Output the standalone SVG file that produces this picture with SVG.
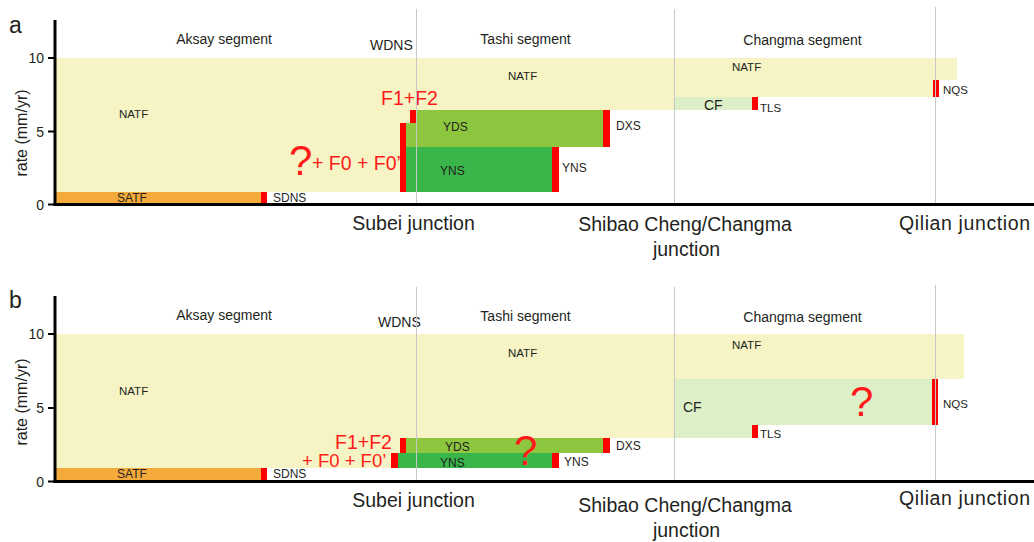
<svg xmlns="http://www.w3.org/2000/svg" width="1034" height="542" viewBox="0 0 1034 542">
<style>
text{font-family:"Liberation Sans",Arial,sans-serif;fill:#231f20}
.natf{fill:#f6f4c4}
.satf{fill:#f5aa3c}
.yds{fill:#8dc63f}
.yns{fill:#39b54a}
.cf{fill:#dcefc6}
.red{fill:#ff0000}
.grid{stroke:#c8c8c8;stroke-width:1;fill:none}
.axis{stroke:#000;stroke-width:3;fill:none}
.tick{stroke:#000;stroke-width:2}
.s11{font-size:11.5px}
.s12{font-size:12px}
.s14{font-size:14px}
.s16{font-size:16px}
.jn{font-size:19.5px}
.rt{fill:#ff1a1a;font-size:19.5px}
.rb{fill:#ff1a1a;font-size:18.5px}
.q{fill:#ff1a1a;font-size:42px}
.pl{font-size:23px}
.tk{font-size:14px;text-anchor:end}
</style>

<!-- ===== Panel a ===== -->
<g id="panel-a">
  <g id="a-NATF">
    <polygon class="natf" points="56,58 957,58 957,80 935,80 935,97 674,97 674,110 410,110 410,123 400,123 400,192 56,192"/>
    <text class="s11" x="119" y="118">NATF</text>
    <text class="s11" x="508" y="80">NATF</text>
    <text class="s11" x="732" y="71">NATF</text>
  </g>
  <g id="a-CF">
    <rect class="cf" x="674" y="97" width="79" height="13"/>
    <text class="s14" x="704" y="110">CF</text>
  </g>
  <g id="a-TLS">
    <rect class="red" x="752" y="97" width="6" height="13"/>
    <text class="s11" x="760" y="111.5">TLS</text>
  </g>
  <g id="a-NQS">
    <rect class="red" x="933" y="80" width="6" height="17"/>
    <text class="s11" x="943" y="94">NQS</text>
  </g>
  <g id="a-YDS">
    <polygon class="yds" points="406,123 410,123 410,110 603,110 603,147 406,147"/>
    <text class="s12" x="443" y="130.5">YDS</text>
  </g>
  <g id="a-F1F2">
    <rect class="red" x="410" y="110" width="6" height="13"/>
    <text class="rt" x="381" y="105">F1+F2</text>
  </g>
  <g id="a-DXS">
    <rect class="red" x="603" y="110" width="7" height="37"/>
    <text class="s12" x="616" y="130">DXS</text>
  </g>
  <g id="a-YNS">
    <rect class="yns" x="406" y="147" width="146" height="45"/>
    <text class="s12" x="440" y="175">YNS</text>
    <rect class="red" x="552" y="147" width="7" height="45"/>
    <text class="s12" x="562" y="171.5">YNS</text>
  </g>
  <g id="a-F0">
    <rect class="red" x="400" y="123" width="6" height="69"/>
    <text class="q" x="289" y="175">?</text>
    <text class="rt" x="312" y="170">+ F0 + F0’</text>
  </g>
  <g id="a-SATF">
    <rect class="satf" x="56" y="192" width="205" height="11"/>
    <text class="s12" x="132" y="201.5" text-anchor="middle">SATF</text>
  </g>
  <g id="a-SDNS">
    <rect class="red" x="261" y="192" width="6" height="11"/>
    <text class="s12" x="273" y="201.5">SDNS</text>
  </g>
  <g id="a-labels">
    <text class="pl" x="9" y="33">a</text>
    <text class="s14" x="224" y="43.5" text-anchor="middle">Aksay segment</text>
    <text class="s14" x="370" y="50">WDNS</text>
    <text class="s14" x="525.5" y="44" text-anchor="middle">Tashi segment</text>
    <text class="s14" x="802.5" y="45" text-anchor="middle">Changma segment</text>
    <text class="jn" x="413.5" y="230" text-anchor="middle">Subei junction</text>
    <text class="jn" x="685" y="231" text-anchor="middle">Shibao Cheng/Changma</text>
    <text class="jn" x="686.5" y="256" text-anchor="middle">junction</text>
    <text class="jn" x="964.5" y="230" text-anchor="middle" textLength="131">Qilian junction</text>
    <text class="s16" transform="translate(27,133) rotate(-90)" text-anchor="middle">rate (mm/yr)</text>
    <text class="tk" x="44" y="63">10</text>
    <text class="tk" x="44" y="136.5">5</text>
    <text class="tk" x="44" y="210">0</text>
  </g>
</g>

<!-- ===== Panel b ===== -->
<g id="panel-b">
  <g id="b-NATF">
    <polygon class="natf" points="56,334 964,334 964,379 674,379 674,438 400,438 400,453 391,453 391,468 56,468"/>
    <text class="s11" x="119" y="395">NATF</text>
    <text class="s11" x="508" y="356.5">NATF</text>
    <text class="s11" x="732" y="349">NATF</text>
  </g>
  <g id="b-CF">
    <polygon class="cf" points="674,379 932,379 932,425 753,425 753,438 674,438"/>
    <text class="s14" x="683" y="411.5">CF</text>
    <text class="q" x="850" y="416">?</text>
  </g>
  <g id="b-TLS">
    <rect class="red" x="752" y="425" width="6" height="13"/>
    <text class="s11" x="760" y="437.5">TLS</text>
  </g>
  <g id="b-NQS">
    <rect class="red" x="932" y="379" width="6" height="46"/>
    <text class="s11" x="943" y="408">NQS</text>
  </g>
  <g id="b-YDS">
    <rect class="yds" x="406" y="438" width="197" height="15"/>
    <text class="s12" x="445" y="451">YDS</text>
  </g>
  <g id="b-F1F2">
    <rect class="red" x="400" y="438" width="6" height="15"/>
    <text class="rt" x="335" y="449">F1+F2</text>
  </g>
  <g id="b-DXS">
    <rect class="red" x="603" y="438" width="7" height="15"/>
    <text class="s12" x="616" y="450">DXS</text>
  </g>
  <g id="b-YNS">
    <rect class="yns" x="398" y="453" width="154" height="15"/>
    <text class="s12" x="440" y="467">YNS</text>
    <rect class="red" x="552" y="453" width="7" height="15"/>
    <text class="s12" x="564" y="466">YNS</text>
    <text class="q" x="514" y="465">?</text>
  </g>
  <g id="b-F0">
    <rect class="red" x="391" y="453" width="7" height="15"/>
    <text class="rb" x="302" y="467">+ F0 + F0’</text>
  </g>
  <g id="b-SATF">
    <rect class="satf" x="56" y="468" width="205" height="12"/>
    <text class="s12" x="132" y="478" text-anchor="middle">SATF</text>
  </g>
  <g id="b-SDNS">
    <rect class="red" x="261" y="468" width="6" height="12"/>
    <text class="s12" x="273" y="478">SDNS</text>
  </g>
  <g id="b-labels">
    <text class="pl" x="9" y="308">b</text>
    <text class="s14" x="224" y="320" text-anchor="middle">Aksay segment</text>
    <text class="s14" x="378" y="326.5">WDNS</text>
    <text class="s14" x="525.5" y="321" text-anchor="middle">Tashi segment</text>
    <text class="s14" x="802.5" y="321.5" text-anchor="middle">Changma segment</text>
    <text class="jn" x="413.5" y="507" text-anchor="middle">Subei junction</text>
    <text class="jn" x="685" y="511.5" text-anchor="middle">Shibao Cheng/Changma</text>
    <text class="jn" x="686.5" y="537" text-anchor="middle">junction</text>
    <text class="jn" x="964.5" y="505" text-anchor="middle" textLength="131">Qilian junction</text>
    <text class="s16" transform="translate(27,402) rotate(-90)" text-anchor="middle">rate (mm/yr)</text>
    <text class="tk" x="44" y="339">10</text>
    <text class="tk" x="44" y="413">5</text>
    <text class="tk" x="44" y="487">0</text>
  </g>
</g>

<!-- ===== Axes and grid lines ===== -->
<g id="connectors">
  <line class="grid" x1="416.5" y1="9" x2="416.5" y2="203"/>
  <line class="grid" x1="674.5" y1="9" x2="674.5" y2="203"/>
  <line class="grid" x1="935.5" y1="7" x2="935.5" y2="203"/>
  <line class="grid" x1="416.5" y1="287" x2="416.5" y2="480"/>
  <line class="grid" x1="674.5" y1="287" x2="674.5" y2="480"/>
  <line class="grid" x1="935.5" y1="285" x2="935.5" y2="480"/>
  <line class="axis" x1="55" y1="20" x2="55" y2="206"/>
  <line class="axis" x1="53.5" y1="204.5" x2="1034" y2="204.5"/>
  <line class="tick" x1="48" y1="58" x2="55" y2="58"/>
  <line class="tick" x1="48" y1="131.5" x2="55" y2="131.5"/>
  <line class="tick" x1="48" y1="204.5" x2="55" y2="204.5"/>
  <line class="axis" x1="55" y1="296" x2="55" y2="483"/>
  <line class="axis" x1="53.5" y1="481.5" x2="1034" y2="481.5"/>
  <line class="tick" x1="48" y1="334" x2="55" y2="334"/>
  <line class="tick" x1="48" y1="408" x2="55" y2="408"/>
  <line class="tick" x1="48" y1="481.5" x2="55" y2="481.5"/>
</g>
</svg>
